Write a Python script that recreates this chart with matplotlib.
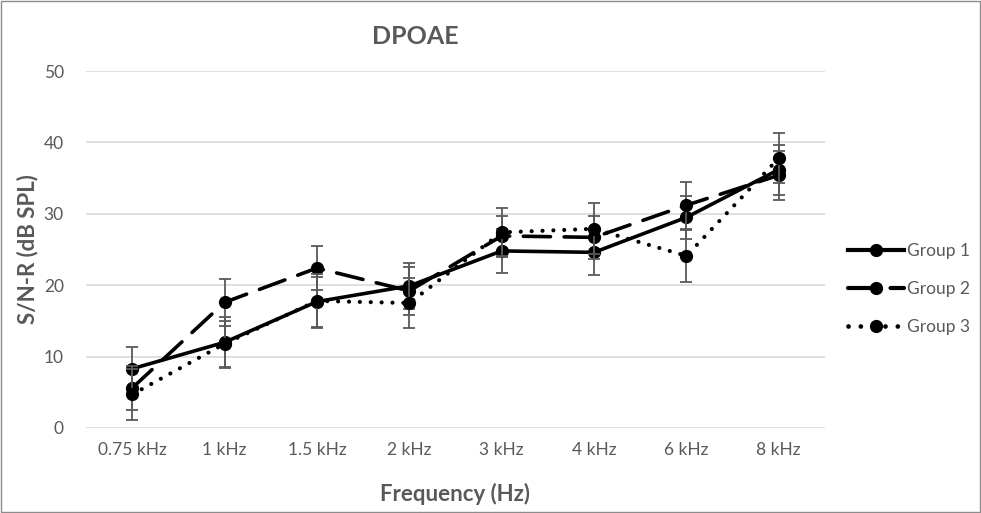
import matplotlib.pyplot as plt
from matplotlib.lines import Line2D
from matplotlib.patches import Rectangle

plt.rcParams['font.family'] = ['Lato', 'DejaVu Sans']

freqs = ['0.75 kHz', '1 kHz', '1.5 kHz', '2 kHz', '3 kHz', '4 kHz', '6 kHz', '8 kHz']
group1 = [8.3, 12.0, 17.7, 19.9, 24.8, 24.6, 29.5, 36.2]
group2 = [5.6, 17.6, 22.4, 19.2, 26.9, 26.7, 31.2, 35.4]
group3 = [4.7, 11.8, 17.8, 17.5, 27.4, 27.9, 24.1, 37.8]
err1 = [3.0, 3.6, 3.5, 3.2, 3.1, 3.2, 3.0, 3.5]
err2 = [3.1, 3.3, 3.1, 3.4, 2.8, 3.0, 3.3, 3.4]
err3 = [3.6, 3.2, 3.8, 3.5, 3.4, 3.6, 3.7, 3.5]
names = ['Group 1', 'Group 2', 'Group 3']

grey = '#595959'
x = list(range(len(freqs)))

fig = plt.figure(figsize=(9.81, 5.13), dpi=100)
ax = fig.add_axes([86 / 981, 1 - 428 / 513, (825 - 86) / 981, (428 - 71) / 513])

line_styles = ['-', (0, (7.5, 3.8)), (0, (0.01, 2.6))]
legend_styles = ['-', (0, (5.6, 4.6)), (0, (0.01, 2.6))]
widths = [2.6, 2.6, 3.0]
series = [group1, group2, group3]
errs = [err1, err2, err3]
for i in range(3):
    ax.errorbar(x, series[i], yerr=errs[i], fmt='none', ecolor=grey, elinewidth=1.3,
                capsize=4, capthick=1.3, zorder=2 + i * 2)
    ax.plot(x, series[i], color='black', linestyle=line_styles[i], linewidth=widths[i],
            marker='o', markersize=8.5, dash_capstyle='round', zorder=3 + i * 2)

ax.set_xlim(-0.5, len(freqs) - 0.5)
ax.set_ylim(0, 50)
ax.set_yticks(range(0, 51, 10))
ax.set_xticks(x)
ax.set_xticklabels(freqs)
ax.grid(axis='y', color='#d9d9d9', linewidth=1.2)
ax.set_axisbelow(True)
for s in ax.spines.values():
    s.set_visible(False)
ax.tick_params(length=0, colors=grey, labelsize=12.5)
ax.tick_params(axis='x', pad=10)
ax.tick_params(axis='y', pad=16)

ax.set_xlabel('Frequency (Hz)', fontsize=16, fontweight='bold', color=grey, labelpad=18)
ax.set_ylabel('S/N-R (dB SPL)', fontsize=16, fontweight='bold', color=grey, labelpad=4)
fig.text(415 / 981, 1 - 36 / 513, 'DPOAE', fontsize=18, fontweight='bold',
         color=grey, ha='center', va='center')

handles = [Line2D([], [], color='black', linestyle=legend_styles[i], linewidth=widths[i] + 0.4,
                  marker='o', markersize=8.5, dash_capstyle='round') for i in range(3)]
fig.legend(handles, names, loc='center left', bbox_to_anchor=(848 / 981, 1 - 289 / 513),
           frameon=False, handlelength=3.2, handletextpad=0.2, borderaxespad=0,
           borderpad=0, labelspacing=1.25, fontsize=12.5, labelcolor=grey)

fig.patches.append(Rectangle((0.001, 0.001), 0.998, 0.997, transform=fig.transFigure,
                             fill=False, edgecolor='#8c8c8c', linewidth=1))

fig.savefig('out.png', dpi=100)
